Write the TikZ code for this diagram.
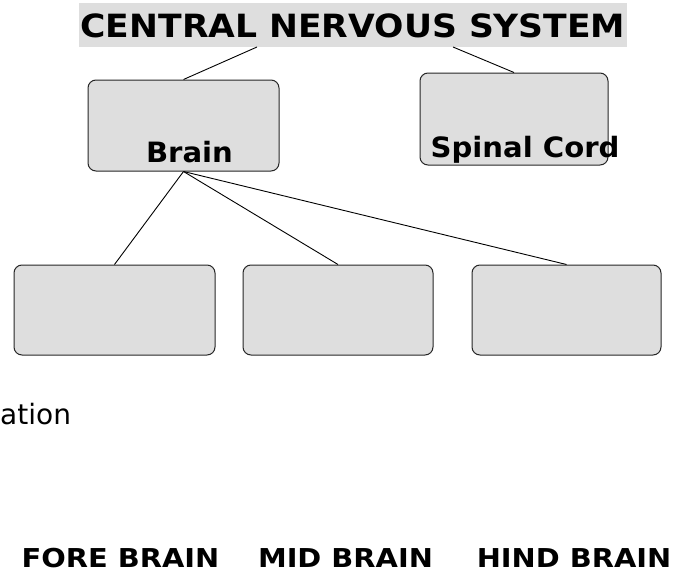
\documentclass[tikz,border=0pt]{standalone}
\usepackage{fontspec}
\usepackage{graphicx}
\setmainfont{DejaVu Sans}
\definecolor{boxgray}{HTML}{DEDEDE}
\begin{document}
\begin{tikzpicture}[x=1pt,y=-1pt,
  box/.style={draw=black!85, line width=1pt, fill=boxgray, rounded corners=8pt, inner sep=0pt},
  lbl/.style={inner sep=0pt, anchor=base, font=\bfseries},
  conn/.style={line width=0.9pt}]
\useasboundingbox (0,0) rectangle (681,573);
% title
\node[fill=boxgray, minimum width=548pt, minimum height=44pt, inner sep=0pt] (band) at (353,25) {};
\node[lbl, font=\bfseries\fontsize{32}{38}\selectfont] (title) at (353,37.5) {\scalebox{1.08}[1]{CENTRAL NERVOUS SYSTEM}};
% boxes
\node[box, minimum width=191pt, minimum height=91pt] (brain) at (183.5,125.5) {};
\node[box, minimum width=188pt, minimum height=92pt] (spinal) at (514,119) {};
\node[box, minimum width=201pt, minimum height=90pt] (fore) at (114.5,310) {};
\node[box, minimum width=190pt, minimum height=90pt] (mid) at (338,310) {};
\node[box, minimum width=189pt, minimum height=90pt] (hind) at (566.5,310) {};
% labels
\node[lbl, font=\bfseries\fontsize{28}{33}\selectfont] (brainlbl) at (189.5,162.5) {\scalebox{1.04}[1]{Brain}};
\node[lbl, font=\bfseries\fontsize{28}{33}\selectfont] (spinallbl) at (525,157.5) {\scalebox{1.04}[1]{Spinal Cord}};
\node[inner sep=0pt, anchor=base west, font=\fontsize{28}{34}\selectfont] (ation) at (0,424) {ation};
\node[lbl, font=\bfseries\fontsize{26}{31}\selectfont] (forelbl) at (120.5,567.5) {\scalebox{1.11}[1]{FORE BRAIN}};
\node[lbl, font=\bfseries\fontsize{26}{31}\selectfont] (midlbl) at (345.5,567.5) {\scalebox{1.11}[1]{MID BRAIN}};
\node[lbl, font=\bfseries\fontsize{26}{31}\selectfont] (hindlbl) at (574,567.5) {\scalebox{1.11}[1]{HIND BRAIN}};
% connectors
\coordinate (t1) at (257,47);
\coordinate (t2) at (453,47);
\draw[conn] (t1) -- (brain.north);
\draw[conn] (t2) -- (spinal.north);
\draw[conn] (brain.south) -- (fore.north);
\draw[conn] (brain.south) -- (mid.north);
\draw[conn] (brain.south) -- (hind.north);
\end{tikzpicture}
\end{document}
